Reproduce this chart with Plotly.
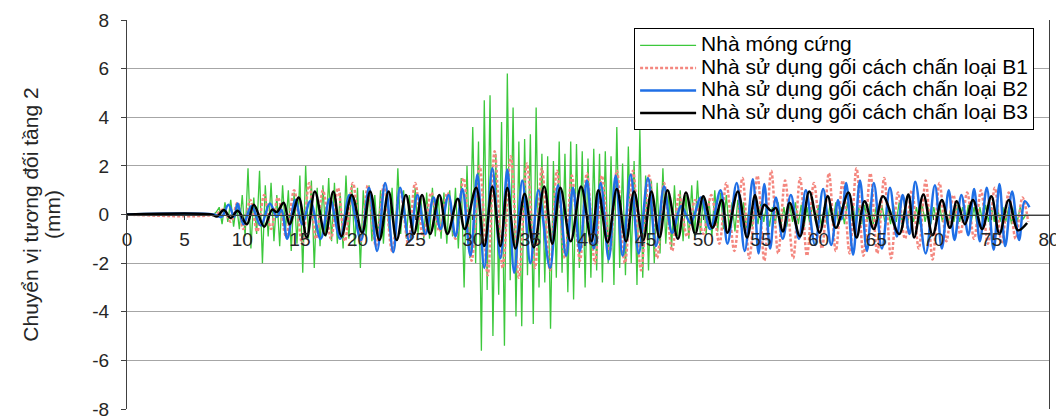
import numpy as np
import plotly.graph_objects as go

# ---------------- data ----------------
series_names = [
    "Nhà móng cứng",
    "Nhà sử dụng gối cách chấn loại B1",
    "Nhà sử dụng gối cách chấn loại B2",
    "Nhà sử dụng gối cách chấn loại B3",
]
y_title_lines = ["Chuyển vị tương đối tầng 2", "(mm)"]

x_ticks = [0, 5, 10, 15, 20, 25, 30, 35, 40, 45, 50, 55, 60, 65, 70, 75, 80]
y_ticks = [-8, -6, -4, -2, 0, 2, 4, 6, 8]

# Rigid-foundation house: sampled every 0.25 s from t = 0
green_t0 = 0.0
green_dt = 0.25
green_vals = [
    0, 0, 0, 0, 0, 0, 0, 0,
    0, 0, 0, 0, 0, 0, 0, 0,
    0, 0, 0, 0, 0, 0, 0, 0,
    0, 0, 0, 0, 0, 0, 0.0, 0.1,
    0.3, -0.4, 0.5, -0.3, 0.6, -0.5, 0.4, -0.6,
    0.8, -0.9, 1.9, -1.4, 0.7, -0.8, 1.8, -2.0,
    1.2, -0.9, 1.3, -1.1, 0.8, -1.3, 1.2, -0.7,
    1.0, -1.5, 0.9, -1.2, 1.6, -2.4, 2.0, -1.0,
    1.4, -2.2, 1.1, -1.3, 1.2, -0.9, 1.5, -1.1,
    1.3, -1.2, 0.9, -1.4, 1.6, -1.0, 1.2, -1.3,
    1.1, -2.2, 1.0, -0.9, 1.2, -1.1, 0.8, -1.0,
    1.0, -1.2, 0.9, -0.7, 1.1, -1.3, 1.9, -0.8,
    1.0, -1.0, 0.8, -0.9, 1.1, -0.8, 0.7, -1.0,
    0.9, -1.0, 1.1, -0.9, 0.8, -1.0, 0.9, -1.2,
    1.0, -0.9, 1.1, -1.4, 1.5, -3.0, 2.0, -1.8,
    3.6, -2.0, 3.0, -5.6, 4.7, -3.1, 4.9, -5.0,
    2.5, -3.3, 3.8, -5.4, 5.8, -2.7, 4.4, -4.2,
    3.0, -4.6, 3.1, -2.5, 3.3, -4.5, 4.4, -3.0,
    2.5, -2.8, 2.4, -4.7, 2.2, -2.6, 3.0, -2.4,
    2.5, -3.2, 3.0, -3.5, 2.9, -2.2, 2.6, -3.0,
    2.3, -2.6, 2.7, -2.3, 2.5, -2.8, 2.6, -2.0,
    2.4, -2.9, 3.6, -2.2, 2.1, -2.5, 2.8, -2.0,
    2.2, -2.9, 3.5, -2.6, 1.6, -2.3, 1.4, -2.0,
    1.3, -1.6, 1.9, -1.2, 1.0, -1.4, 1.2, -0.9,
    1.0, -1.1, 0.8, -1.0, 1.2, -0.9, 1.4, -0.8,
    0.7, -0.8, 0.6, -0.9, 1.0, -0.7, 0.9, -0.6,
    0.8, -0.6, 0.5, -0.7, 0.6, -0.5, 0.5, -0.6,
    0.4, -0.5, 0.3, -0.4, 0.5, -0.3, 0.4, -0.5,
    0.3, -0.4, 0.5, -0.4, 0.3, -0.5, 0.4, -0.3,
    0.5, -0.4, 0.4, -0.5, 0.3, -0.4, 0.5, -0.3,
    0.4, -0.5, 0.3, -0.4, 0.4, -0.3, 0.5, -0.4,
    0.3, -0.4, 0.5, -0.3, 0.4, -0.5, 0.3, -0.4,
    0.4, -0.3, 0.5, -0.4, 0.3, -0.4, 0.4, -0.3,
    0.3, -0.4, 0.4, -0.3, 0.5, -0.4, 0.3, -0.3,
    0.4, -0.3, 0.3, -0.4, 0.4, -0.3, 0.3, -0.4,
    0.3, -0.3, 0.4, -0.3, 0.3, -0.4, 0.3, -0.3,
    0.4, -0.3, 0.3, -0.3, 0.4, -0.3, 0.3, -0.4,
    0.3, -0.3, 0.4, -0.3, 0.3, -0.3, 0.4, -0.3,
    0.3, -0.3, 0.3, -0.4, 0.3, -0.3, 0.3, -0.2,
    0.0,
]

# Isolated house B1: extrema (time s, displacement mm)
b1_time = [0, 7.6, 8.4, 9.0, 9.6, 10.1, 10.7, 11.3, 11.9, 12.5, 13.1, 13.8, 14.5,
           15.2, 15.8, 16.4, 17.0, 17.7, 18.3, 18.9, 19.6, 20.3, 20.9, 21.6, 22.3,
           23.0, 23.7, 24.4, 25.0, 25.7, 26.4, 27.1, 27.8, 28.5, 29.2, 29.9, 30.6,
           31.3, 31.9, 32.6, 33.3, 34.0, 34.7, 35.4, 36.0, 36.7, 37.3, 38.0, 38.6,
           39.3, 39.9, 40.6, 41.2, 41.9, 42.5, 43.2, 43.9, 44.6, 45.3, 46.0, 46.6,
           47.3, 47.9, 48.6, 49.3, 50.0, 50.7, 51.4, 52.0, 52.7, 53.4, 54.0, 54.7,
           55.3, 55.9, 56.5, 57.1, 57.8, 58.4, 59.0, 59.6, 60.3, 60.9, 61.5, 62.1,
           62.7, 63.3, 63.9, 64.5, 65.1, 65.7, 66.3, 66.9, 67.5, 68.1, 68.7, 69.3,
           69.9, 70.5, 71.1, 71.7, 72.3, 72.9, 73.5, 74.1, 74.7, 75.3, 75.9, 76.5,
           77.1, 77.7, 78.2]
b1_vals = [0, 0, 0.2, -0.3, 0.5, -0.6, 0.6, -0.7, 0.8, -0.6, 0.7, -0.9, 1.0,
           -1.2, 1.3, -1.0, 1.0, -1.0, 1.1, -1.1, 1.3, -1.1, 1.2, -1.3, 1.2,
           -1.5, 1.0, -1.2, 1.3, -0.9, 0.9, -0.7, 0.9, -1.0, 1.5, -1.9, 2.0,
           -2.5, 2.6, -2.2, 2.4, -2.6, 2.1, -2.2, 1.9, -2.3, 1.8, -1.8, 1.6,
           -1.9, 1.7, -2.0, 1.6, -1.5, 1.8, -2.0, 1.8, -2.3, 1.6, -1.8, 1.3,
           -1.5, 0.8, -0.9, 0.6, -0.8, 0.8, -1.2, 1.3, -1.5, 1.5, -1.8, 1.6,
           -1.9, 1.8, -1.6, 1.4, -1.8, 1.5, -1.7, 1.3, -1.4, 1.7, -1.5, 1.4,
           -1.6, 1.9, -1.7, 1.7, -1.6, 1.5, -1.8, 0.9, -1.0, 1.0, -1.4, 1.4,
           -1.85, 1.3, -1.1, 0.8, -0.8, 0.9, -1.0, 1.0, -1.2, 1.1, -1.2, 0.9,
           -1.0, 0.7, -0.3]

# Isolated house B2: extrema (time s, displacement mm)
b2_time = [0, 7.5, 8.2, 8.8, 9.3, 9.6, 10.1, 10.8, 11.6, 12.4, 13.0, 13.4, 13.9,
           14.6, 15.2, 15.9, 16.8, 17.6, 18.5, 19.3, 20.3, 21.0, 21.7, 22.4, 23.1,
           23.7, 24.5, 25.2, 25.9, 26.6, 27.2, 27.9, 28.5, 29.1, 29.8, 30.4, 31.0,
           31.7, 32.4, 33.0, 33.6, 34.3, 35.0, 35.7, 36.7, 37.4, 38.1, 38.7, 39.3,
           39.9, 40.5, 41.1, 41.8, 42.4, 43.0, 43.7, 44.4, 45.2, 45.9, 46.6, 47.3,
           48.1, 48.9, 49.8, 50.6, 51.5, 52.1, 52.9, 53.6, 54.3, 54.8, 55.3, 55.8,
           56.3, 56.9, 57.6, 58.3, 58.9, 59.7, 60.4, 61.1, 61.7, 62.0, 62.4, 63.0,
           63.6, 64.2, 64.8, 65.5, 66.2, 66.8, 67.3, 67.9, 68.4, 69.3, 70.1, 70.7,
           71.3, 71.8, 72.4, 73.0, 73.5, 74.0, 74.6, 75.2, 75.7, 76.2, 76.8, 77.4,
           77.9, 78.3]
b2_vals = [0, 0, -0.1, 0.4, -0.1, 0.45, -0.4, 0.35, -0.45, 0.45, -0.1, 0.2, -1.0,
           0.6, -0.4, 0.55, -1.0, 0.65, -1.0, 0.8, -1.05, 1.1, -1.5, 1.3, -1.55,
           1.1, -1.1, 0.8, -0.8, 0.7, -0.6, 0.8, -0.9, 1.05, -1.7, 1.65, -2.2,
           1.9, -1.8, 1.85, -2.4, 1.4, -2.0, 1.0, -2.2, 1.2, -1.7, 1.1, -1.5,
           1.4, -1.4, 1.3, -1.85, 1.6, -1.7, 1.65, -1.6, 1.5, -1.3, 1.15, -0.75,
           0.35, -0.35, 0.7, -0.6, 1.0, -1.2, 1.3, -1.5, 1.45, -1.6, 1.25, -1.4,
           0.7, -1.0, 0.8, -1.0, 1.0, -1.25, 1.05, -1.25, 0.6, -0.2, 1.3, -1.65,
           1.4, -1.5, 1.3, -1.4, 1.1, -0.9, 0.8, -0.8, 1.35, -1.6, 1.2, -1.4,
           1.0, -1.05, 0.8, -0.85, 1.05, -1.1, 1.1, -1.45, 1.25, -1.3, 0.95, -1.05,
           0.55, 0.3]

# Isolated house B3: extrema (time s, displacement mm)
b3_time = [0, 7.3, 7.8, 8.4, 9.0, 9.6, 10.4, 11.0, 11.9, 12.6, 13.0, 13.6, 14.1,
           14.9, 15.6, 16.3, 17.2, 17.9, 18.6, 19.5, 20.4, 21.1, 21.9, 22.7, 23.4,
           24.2, 24.9, 25.6, 26.3, 27.1, 27.8, 28.7, 29.3, 30.3, 31.0, 31.7, 32.4,
           33.0, 33.7, 34.5, 35.3, 36.2, 36.9, 37.6, 38.5, 39.4, 40.3, 40.9, 41.7,
           42.5, 43.3, 44.0, 44.8, 45.5, 46.2, 46.9, 47.8, 48.5, 49.3, 50.0, 50.8,
           51.6, 52.1, 53.0, 53.8, 54.5, 54.9, 55.3, 55.9, 56.3, 56.9, 57.5, 58.4,
           59.2, 60.1, 60.8, 61.5, 62.6, 63.3, 64.0, 64.8, 65.6, 67.0, 67.8, 68.3,
           69.1, 69.9, 70.7, 71.4, 72.0, 72.7, 73.4, 74.2, 75.0, 75.7, 76.5, 77.3,
           78.1]
b3_vals = [0, 0, -0.08, 0.18, -0.14, 0.15, -0.4, 0.4, -0.5, 0.2, 0.1, 0.48, -0.4,
           0.7, -0.95, 0.95, -0.85, 0.95, -0.9, 0.8, -0.75, 0.95, -1.05, 0.95, -1.05,
           0.8, -0.8, 0.8, -0.8, 0.8, -0.8, 0.65, -0.6, 1.1, -1.3, 1.15, -1.3,
           1.1, -1.4, 0.85, -1.35, 1.15, -1.2, 1.1, -1.1, 1.15, -1.1, 1.0, -1.15,
           1.05, -1.1, 0.95, -1.05, 0.95, -0.95, 1.0, -1.0, 0.9, -0.8, 0.75, -0.55,
           0.6, -0.75, 0.95, -0.95, 0.8, -0.1, 0.4, 0.15, 0.27, -0.7, 0.48, -0.9,
           0.95, -0.75, 0.75, -0.55, 0.9, -0.95, 0.55, -0.6, 0.75, -0.8, 0.82, -0.95,
           0.82, -0.85, 0.6, -0.55, 0.55, -0.4, 0.6, -0.6, 0.75, -0.8, 0.6, -0.65,
           -0.35]

# ---------------- figure ----------------
green_time = [green_t0 + green_dt * i for i in range(len(green_vals))]

FONT = "Liberation Sans, Arial, sans-serif"
BIG = '<span style="font-size:21px">{}</span>'

fig = go.Figure()
fig.add_trace(go.Scatter(x=green_time, y=green_vals, mode="lines",
                         name=BIG.format(series_names[0]),
                         line=dict(color="#3CC83C", width=1.3)))
fig.add_trace(go.Scatter(x=b1_time, y=b1_vals, mode="lines",
                         name=BIG.format(series_names[1]),
                         line=dict(color="#F4877F", width=2.5, dash="3px,2px", shape="spline", smoothing=1)))
fig.add_trace(go.Scatter(x=b2_time, y=b2_vals, mode="lines",
                         name=BIG.format(series_names[2]),
                         line=dict(color="#1F6FE6", width=2.5, shape="spline", smoothing=1)))
fig.add_trace(go.Scatter(x=b3_time, y=b3_vals, mode="lines",
                         name=BIG.format(series_names[3]),
                         line=dict(color="#000000", width=2.5, shape="spline", smoothing=1)))

# The page body adds an 8 px offset, so the margins are shifted by 8 px.
fig.update_layout(
    width=1064, height=419,
    margin=dict(l=119, r=23, t=12, b=18, autoexpand=False),
    paper_bgcolor="white", plot_bgcolor="white",
    font=dict(family=FONT, size=19, color="#262626"),
    showlegend=True,
    legend=dict(x=0.55, y=0.979, xanchor="left", yanchor="top",
                bgcolor="white", bordercolor="#000000", borderwidth=1,
                font=dict(family=FONT, size=15, color="#000000"),
                itemwidth=56, tracegroupgap=0),
)
fig.update_xaxes(
    range=[0, 80], tickvals=x_ticks, ticktext=[str(v) for v in x_ticks],
    anchor="free", position=0.5, automargin=False,
    showline=True, linecolor="#404040", linewidth=1,
    showgrid=False, zeroline=False,
    ticks="outside", ticklen=4, tickcolor="#404040", ticklabelstandoff=4,
    tickfont=dict(family=FONT, size=19, color="#262626"),
)
fig.update_yaxes(
    range=[-8, 8], tickvals=y_ticks, ticktext=[str(v) for v in y_ticks],
    automargin=False,
    showline=True, linecolor="#404040", linewidth=1, mirror=True,
    showgrid=True, gridcolor="#A6A6A6", gridwidth=1, zeroline=False,
    ticks="outside", ticklen=5, tickcolor="#404040", ticklabelstandoff=8,
    tickfont=dict(family=FONT, size=19, color="#262626"),
    title=dict(text="<br>".join(BIG.format(s) for s in y_title_lines),
               font=dict(family=FONT, size=17, color="#262626"), standoff=27),
)

fig.write_html("out.html")
